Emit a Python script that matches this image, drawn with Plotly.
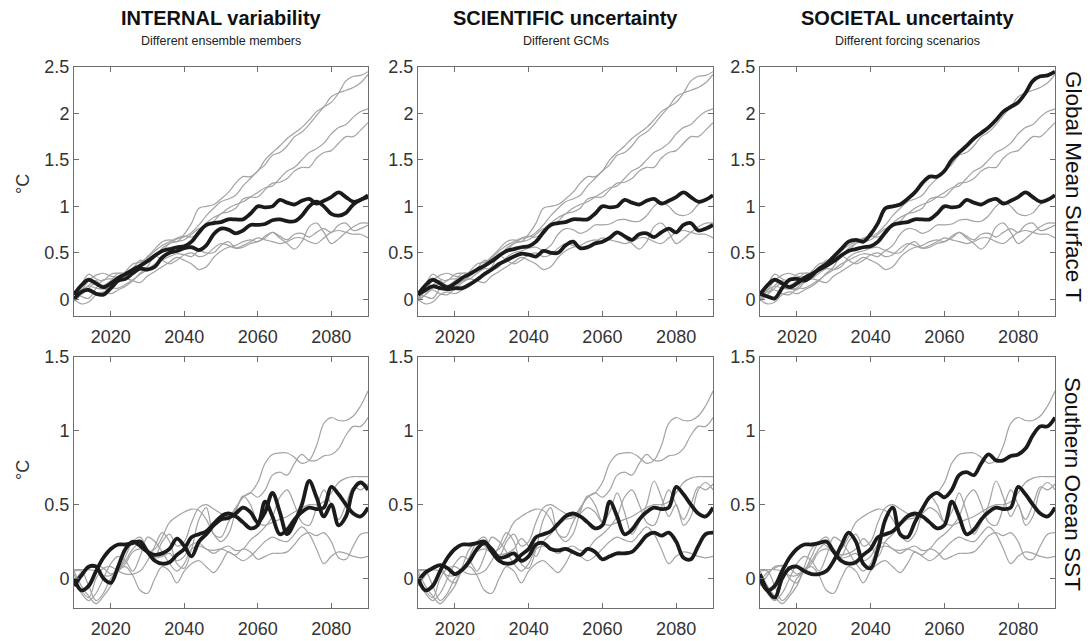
import plotly.graph_objects as go

# ---------------- data (every 2 years) ----------------
years = list(range(2010, 2091, 2))

# Global mean surface temperature anomaly (°C) – pool of simulations
gmst_g1 = [0.06, 0.03, 0.01, 0.12, 0.21, 0.22, 0.20, 0.25, 0.33, 0.38, 0.46, 0.54, 0.62, 0.64, 0.62, 0.70,
           0.82, 0.98, 1.00, 1.02, 1.08, 1.15, 1.25, 1.32, 1.32, 1.38, 1.50, 1.58, 1.65, 1.73, 1.79, 1.85,
           1.93, 2.02, 2.07, 2.12, 2.22, 2.35, 2.40, 2.41, 2.45]
gmst_g2 = [0.00, 0.15, 0.27, 0.22, 0.20, 0.27, 0.28, 0.26, 0.33, 0.42, 0.40, 0.45, 0.55, 0.60, 0.65, 0.67,
           0.72, 0.80, 0.90, 0.98, 1.05, 1.08, 1.12, 1.22, 1.30, 1.38, 1.45, 1.55, 1.58, 1.65, 1.75, 1.80,
           1.88, 1.98, 2.07, 2.18, 2.22, 2.25, 2.28, 2.33, 2.42]
gmst_g3 = [0.02, 0.10, 0.20, 0.26, 0.28, 0.25, 0.24, 0.30, 0.38, 0.40, 0.45, 0.52, 0.58, 0.62, 0.66, 0.68,
           0.67, 0.72, 0.82, 0.88, 0.92, 0.98, 1.02, 1.05, 1.10, 1.15, 1.20, 1.22, 1.30, 1.38, 1.42, 1.50,
           1.58, 1.62, 1.68, 1.78, 1.85, 1.88, 1.96, 2.02, 2.05]
gmst_g4 = [0.00, 0.05, 0.12, 0.18, 0.15, 0.20, 0.28, 0.28, 0.30, 0.37, 0.44, 0.48, 0.52, 0.60, 0.62, 0.64,
           0.70, 0.76, 0.78, 0.84, 0.92, 0.94, 0.98, 1.08, 1.10, 1.10, 1.18, 1.25, 1.26, 1.30, 1.38, 1.42,
           1.42, 1.52, 1.58, 1.60, 1.68, 1.75, 1.75, 1.82, 1.90]
gmst_g5 = [0.05, 0.15, 0.21, 0.17, 0.13, 0.17, 0.23, 0.27, 0.32, 0.36, 0.41, 0.47, 0.52, 0.54, 0.56, 0.57,
           0.62, 0.72, 0.80, 0.82, 0.83, 0.86, 0.86, 0.86, 0.92, 1.00, 0.99, 1.00, 1.07, 1.04, 1.02, 1.06,
           1.08, 1.03, 1.06, 1.10, 1.15, 1.10, 1.05, 1.07, 1.12]
gmst_g6 = [0.00, 0.08, 0.10, 0.06, 0.05, 0.12, 0.20, 0.22, 0.28, 0.33, 0.32, 0.35, 0.45, 0.50, 0.52, 0.55,
           0.56, 0.53, 0.58, 0.70, 0.76, 0.75, 0.71, 0.74, 0.80, 0.80, 0.81, 0.85, 0.86, 0.84, 0.84, 0.90,
           1.00, 1.05, 1.00, 0.92, 0.90, 0.93, 1.02, 1.07, 1.10]
gmst_g7 = [0.05, 0.10, 0.14, 0.12, 0.11, 0.12, 0.12, 0.16, 0.21, 0.27, 0.32, 0.38, 0.42, 0.46, 0.49, 0.48,
           0.46, 0.52, 0.50, 0.50, 0.58, 0.62, 0.55, 0.56, 0.60, 0.62, 0.66, 0.72, 0.68, 0.64, 0.70, 0.71,
           0.67, 0.72, 0.76, 0.72, 0.80, 0.82, 0.74, 0.76, 0.80]
gmst_g8 = [-0.02, 0.05, 0.15, 0.20, 0.12, 0.10, 0.18, 0.22, 0.20, 0.18, 0.25, 0.30, 0.35, 0.40, 0.45, 0.42,
           0.38, 0.32, 0.35, 0.45, 0.52, 0.56, 0.58, 0.62, 0.64, 0.62, 0.68, 0.72, 0.66, 0.60, 0.54, 0.62,
           0.78, 0.82, 0.72, 0.60, 0.65, 0.72, 0.78, 0.82, 0.82]
gmst_g9 = [0.00, -0.05, -0.03, 0.05, 0.08, 0.06, 0.10, 0.14, 0.20, 0.28, 0.35, 0.47, 0.42, 0.38, 0.42, 0.48,
           0.50, 0.46, 0.48, 0.55, 0.60, 0.58, 0.55, 0.58, 0.62, 0.66, 0.64, 0.62, 0.60, 0.62, 0.66, 0.66,
           0.62, 0.60, 0.66, 0.72, 0.74, 0.72, 0.70, 0.70, 0.66]

# Southern Ocean SST anomaly (°C) – pool of simulations
sst_s1 = [0.03, -0.08, -0.13, 0.00, 0.07, 0.08, 0.05, 0.03, 0.03, 0.05, 0.12, 0.22, 0.31, 0.25, 0.10, 0.07,
          0.20, 0.40, 0.48, 0.30, 0.28, 0.38, 0.47, 0.55, 0.58, 0.55, 0.60, 0.70, 0.72, 0.70, 0.78, 0.84,
          0.80, 0.80, 0.83, 0.84, 0.88, 0.97, 1.03, 1.03, 1.09]
sst_s2 = [0.05, 0.05, -0.05, -0.15, -0.10, 0.00, 0.05, 0.15, 0.25, 0.28, 0.20, 0.15, 0.25, 0.30, 0.22, 0.25,
          0.38, 0.48, 0.50, 0.47, 0.44, 0.42, 0.48, 0.55, 0.58, 0.65, 0.78, 0.84, 0.85, 0.85, 0.82, 0.78,
          0.80, 0.90, 1.05, 1.09, 1.07, 1.07, 1.10, 1.17, 1.27]
sst_s3 = [0.06, 0.06, 0.06, 0.05, 0.02, 0.02, 0.05, 0.10, 0.18, 0.20, 0.18, 0.20, 0.28, 0.38, 0.42, 0.45,
          0.47, 0.46, 0.40, 0.30, 0.25, 0.30, 0.45, 0.56, 0.50, 0.38, 0.36, 0.38, 0.40, 0.42, 0.45, 0.48,
          0.50, 0.50, 0.52, 0.58, 0.65, 0.68, 0.69, 0.69, 0.69]
sst_s4 = [0.00, -0.10, -0.15, -0.10, 0.00, 0.10, 0.15, 0.12, 0.05, 0.15, 0.28, 0.25, 0.18, 0.10, 0.05, 0.10,
          0.20, 0.22, 0.20, 0.17, 0.20, 0.22, 0.19, 0.20, 0.26, 0.30, 0.35, 0.42, 0.55, 0.60, 0.50, 0.38,
          0.36, 0.48, 0.60, 0.50, 0.40, 0.50, 0.62, 0.60, 0.64]
sst_s5 = [0.00, -0.08, -0.05, 0.05, 0.14, 0.20, 0.23, 0.23, 0.24, 0.25, 0.18, 0.12, 0.10, 0.11, 0.16, 0.20,
          0.28, 0.30, 0.32, 0.37, 0.42, 0.44, 0.42, 0.38, 0.34, 0.36, 0.52, 0.42, 0.30, 0.33, 0.40, 0.45,
          0.48, 0.47, 0.48, 0.62, 0.57, 0.50, 0.44, 0.42, 0.48]
sst_s6 = [-0.05, 0.02, 0.08, 0.08, 0.00, -0.03, 0.08, 0.20, 0.25, 0.22, 0.18, 0.16, 0.17, 0.20, 0.27, 0.22,
          0.15, 0.25, 0.30, 0.36, 0.40, 0.41, 0.44, 0.48, 0.45, 0.38, 0.45, 0.58, 0.45, 0.30, 0.38, 0.50,
          0.66, 0.55, 0.42, 0.50, 0.36, 0.42, 0.60, 0.65, 0.60]
sst_s7 = [-0.02, 0.04, 0.07, 0.09, 0.07, 0.03, 0.06, 0.12, 0.20, 0.24, 0.20, 0.14, 0.15, 0.17, 0.12, 0.15,
          0.23, 0.24, 0.20, 0.19, 0.20, 0.18, 0.16, 0.20, 0.18, 0.13, 0.15, 0.17, 0.17, 0.18, 0.23, 0.29,
          0.31, 0.29, 0.31, 0.25, 0.14, 0.13, 0.22, 0.30, 0.31]
sst_s8 = [0.05, -0.05, -0.12, -0.17, -0.12, -0.05, 0.05, 0.08, 0.02, -0.08, -0.10, 0.00, 0.08, 0.05, -0.03, 0.05,
          0.10, 0.12, 0.08, 0.04, 0.10, 0.18, 0.15, 0.12, 0.15, 0.20, 0.25, 0.28, 0.26, 0.25, 0.30, 0.35,
          0.30, 0.20, 0.10, 0.15, 0.18, 0.17, 0.15, 0.14, 0.15]

gmst_pool = [gmst_g1, gmst_g2, gmst_g3, gmst_g4, gmst_g5, gmst_g6, gmst_g7, gmst_g8, gmst_g9]
sst_pool = [sst_s1, sst_s2, sst_s3, sst_s4, sst_s5, sst_s6, sst_s7, sst_s8]

# highlighted (black) lines per column
gmst_black = [[gmst_g5, gmst_g6], [gmst_g5, gmst_g7], [gmst_g1, gmst_g5]]
sst_black = [[sst_s5, sst_s6], [sst_s5, sst_s7], [sst_s1, sst_s5]]

col_titles = ["INTERNAL variability", "SCIENTIFIC uncertainty", "SOCIETAL uncertainty"]
col_subtitles = ["Different ensemble members", "Different GCMs", "Different forcing scenarios"]
row_labels = ["Global Mean Surface T", "Southern Ocean SST"]
x_ticks = [2020, 2040, 2060, 2080]
y_ticks_top = [0, 0.5, 1, 1.5, 2, 2.5]
y_ticks_bot = [0, 0.5, 1, 1.5]

# ---------------- figure ----------------
# The page body has an 8px margin, so the figure is laid out in screen pixels minus 8.
OFF = 8
W, H = 1090 - OFF, 641 - OFF
FONT = "Liberation Sans, Arial, Helvetica, sans-serif"
GRAY = "#a3a3a3"
BLACK = "#1b1b1b"
AXC = "#6e6e6e"
TXT = "#333333"


def fx(px):
    return (px - OFF) / W


def fy(py):
    return 1 - (py - OFF) / H


xdom = [[fx(74), fx(368)], [fx(418), fx(713)], [fx(760), fx(1055)]]
ydom = [[fy(316), fy(67)], [fy(608), fy(357)]]

fig = go.Figure()
layout = {}
rows = [(gmst_pool, gmst_black, [-0.18, 2.5], y_ticks_top),
        (sst_pool, sst_black, [-0.2, 1.5], y_ticks_bot)]

for r, (pool, blacks, yr, yt) in enumerate(rows):
    for c in range(3):
        k = r * 3 + c + 1
        xa = "x" if k == 1 else f"x{k}"
        ya = "y" if k == 1 else f"y{k}"
        for series in pool:
            fig.add_trace(go.Scatter(x=years, y=series, mode="lines", xaxis=xa, yaxis=ya,
                                     line=dict(color=GRAY, width=1.2, shape="spline", smoothing=1.0),
                                     hoverinfo="skip"))
        for series in blacks[c]:
            fig.add_trace(go.Scatter(x=years, y=series, mode="lines", xaxis=xa, yaxis=ya,
                                     line=dict(color=BLACK, width=3.8, shape="spline", smoothing=1.0),
                                     hoverinfo="skip"))
        common = dict(showline=True, linecolor=AXC, linewidth=1, mirror="ticks", ticks="inside",
                      ticklen=5, tickcolor=AXC, showgrid=False, zeroline=False, automargin=False,
                      tickfont=dict(family=FONT, size=18, color=TXT))
        layout["xaxis" if k == 1 else f"xaxis{k}"] = dict(
            domain=xdom[c], anchor=ya, range=[2010, 2090], tickvals=x_ticks,
            ticktext=[str(v) for v in x_ticks], ticklabelstandoff=4, **common)
        layout["yaxis" if k == 1 else f"yaxis{k}"] = dict(
            domain=ydom[r], anchor=xa, range=yr, tickvals=yt,
            ticktext=[f"{v:g}" for v in yt], **common)

ann = []
centers = [fx((74 + 368) / 2), fx((418 + 713) / 2), fx((760 + 1055) / 2)]
for c in range(3):
    ann.append(dict(text=f"<b>{col_titles[c]}</b>", x=centers[c], y=fy(18), xref="paper", yref="paper",
                    showarrow=False, font=dict(family=FONT, size=20, color="#111111"),
                    xanchor="center", yanchor="middle"))
    ann.append(dict(text=col_subtitles[c], x=centers[c], y=fy(41), xref="paper", yref="paper",
                    showarrow=False, font=dict(family=FONT, size=12.5, color="#222222"),
                    xanchor="center", yanchor="middle"))
for r, yc in enumerate([184, 470]):
    ann.append(dict(text="°C", x=fx(23), y=fy(yc), xref="paper", yref="paper", showarrow=False,
                    textangle=-90, font=dict(family=FONT, size=18, color=TXT),
                    xanchor="center", yanchor="middle"))
for r, yc in enumerate([186, 484]):
    ann.append(dict(text=row_labels[r], x=fx(1073), y=fy(yc), xref="paper", yref="paper",
                    showarrow=False, textangle=90, font=dict(family=FONT, size=22.5, color="#111111"),
                    xanchor="center", yanchor="middle"))

fig.update_layout(width=W, height=H, margin=dict(l=0, r=0, t=0, b=0, autoexpand=False), showlegend=False,
                  plot_bgcolor="white", paper_bgcolor="white", annotations=ann, **layout)

fig.write_html("out.html")
